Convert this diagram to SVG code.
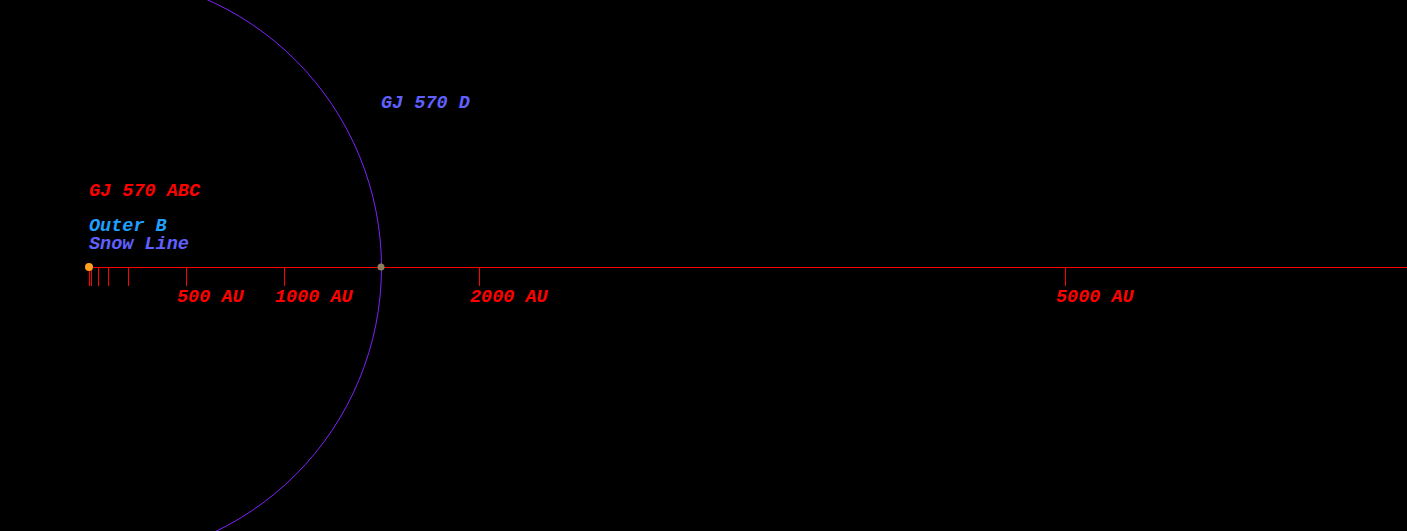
<svg xmlns="http://www.w3.org/2000/svg" width="1407" height="531" viewBox="0 0 1407 531">
<style>
text{font-family:"Liberation Mono","Courier New",monospace;font-style:italic;font-weight:bold;font-size:18.5px}
.red{fill:#ff0000}
.tick{stroke:#ff0000;stroke-width:1;shape-rendering:crispEdges}
</style>
<rect width="1407" height="531" fill="#000"/>
<g id="connectors">
<line x1="89" y1="267.5" x2="1407" y2="267.5" stroke="#ff0000" stroke-width="1" shape-rendering="crispEdges"/>
<circle cx="88.5" cy="267.5" r="293" fill="none" stroke="#8020ff" stroke-width="1"/>
</g>
<g id="ticks">
<line class="tick" x1="89.5" y1="267" x2="89.5" y2="286"/>
<line class="tick" x1="91.5" y1="267" x2="91.5" y2="286"/>
<line class="tick" x1="98.5" y1="267" x2="98.5" y2="286"/>
<line class="tick" x1="108.5" y1="267" x2="108.5" y2="286"/>
<line class="tick" x1="128.5" y1="267" x2="128.5" y2="286"/>
<line class="tick" x1="186.5" y1="267" x2="186.5" y2="286"/>
<line class="tick" x1="284.5" y1="267" x2="284.5" y2="286"/>
<line class="tick" x1="479.5" y1="267" x2="479.5" y2="286"/>
<line class="tick" x1="1065.5" y1="267" x2="1065.5" y2="286"/>
</g>
<g id="star-abc">
<circle cx="89" cy="267" r="4" fill="#ffa020"/>
<text class="red" x="89" y="196">GJ 570 ABC</text>
</g>
<g id="outer-b"><text x="89" y="230.5" fill="#20a0ff">Outer B</text></g>
<g id="snow-line"><text x="89" y="249" fill="#6060ff">Snow Line</text></g>
<g id="gj570d">
<circle cx="381" cy="267" r="3.5" fill="#8a8060"/>
<text x="381" y="108" fill="#6060ff">GJ 570 D</text>
</g>
<g id="labels">
<text class="red" x="177" y="302">500 AU</text>
<text class="red" x="275" y="302">1000 AU</text>
<text class="red" x="470" y="302">2000 AU</text>
<text class="red" x="1056" y="302">5000 AU</text>
</g>
</svg>
